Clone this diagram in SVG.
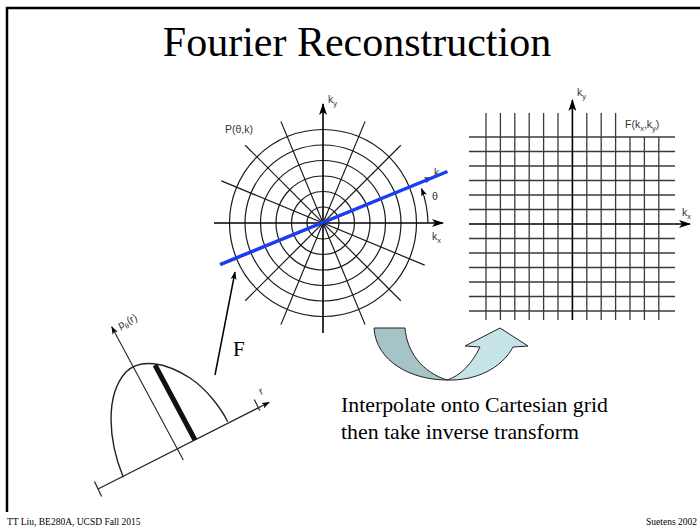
<svg xmlns="http://www.w3.org/2000/svg" width="700" height="530" viewBox="0 0 700 530">
<style>
.ln{stroke:#1a1a1a;stroke-width:1.2;fill:none}
.gr{stroke:#3a3a3a;stroke-width:1.3}
.ax{stroke:#000;stroke-width:1.6;fill:none}
.lab{font-family:"Liberation Sans",Arial,sans-serif;font-size:10.5px;fill:#333}
.serif{font-family:"Liberation Serif","Times New Roman",serif;fill:#000}
</style>
<defs>
<marker id="ah" viewBox="0 0 12 8" refX="11" refY="4" markerWidth="12" markerHeight="8" markerUnits="userSpaceOnUse" orient="auto"><path d="M0,0 L12,4 L0,8 L3,4 Z" fill="#000"/></marker>
<marker id="ahs" viewBox="0 0 8 6" refX="7.5" refY="3" markerWidth="8" markerHeight="6" markerUnits="userSpaceOnUse" orient="auto"><path d="M0,0 L8,3 L0,6 L2,3 Z" fill="#000"/></marker>
</defs>
<rect width="700" height="530" fill="#fff"/>
<path d="M7,512 V8 H700" stroke="#000" stroke-width="2.5" fill="none"/>
<text class="serif" x="357" y="56" font-size="42" text-anchor="middle">Fourier Reconstruction</text>

<g id="polar">
  <g class="ln">
    <circle cx="323" cy="223" r="16"/>
    <circle cx="323" cy="223" r="31.5"/>
    <circle cx="323" cy="223" r="47"/>
    <circle cx="323" cy="223" r="62.5"/>
    <circle cx="323" cy="223" r="78"/>
    <circle cx="323" cy="223" r="93.5"/>
    <g transform="translate(323,223)">
      <line x1="-110" y1="0" x2="110" y2="0" transform="rotate(22.5)"/>
      <line x1="-110" y1="0" x2="110" y2="0" transform="rotate(45)"/>
      <line x1="-110" y1="0" x2="110" y2="0" transform="rotate(67.5)"/>
      <line x1="-110" y1="0" x2="110" y2="0" transform="rotate(112.5)"/>
      <line x1="-110" y1="0" x2="110" y2="0" transform="rotate(135)"/>
      <line x1="-110" y1="0" x2="110" y2="0" transform="rotate(157.5)"/>
    </g>
  </g>
  <line class="ax" x1="214" y1="223" x2="443" y2="223" marker-end="url(#ah)"/>
  <line class="ax" x1="323" y1="333" x2="323" y2="104" marker-end="url(#ah)"/>
  <line class="ax" x1="323" y1="223" x2="432" y2="177.5" marker-end="url(#ahs)"/>
  <path class="ln" d="M428,223 A105,105 0 0 0 421.5,188.5" marker-end="url(#ahs)"/>
  <text class="lab" x="434" y="176">k</text>
  <line x1="220" y1="264.5" x2="447.5" y2="171.5" stroke="#1a3ff2" stroke-width="3.5"/>
  <text class="lab" x="225" y="133">P(θ,k)</text>
  <text class="lab" x="328" y="103">k<tspan font-size="7.5" dy="3">y</tspan></text>
  <text class="lab" x="432" y="240">k<tspan font-size="7.5" dy="3">x</tspan></text>
  <text class="lab" x="432" y="200">θ</text>
</g>

<g id="cartesian">
  <g class="gr">
    <line x1="486" y1="113" x2="486" y2="320"/>
    <line x1="500.4" y1="113" x2="500.4" y2="320"/>
    <line x1="514.8" y1="113" x2="514.8" y2="320"/>
    <line x1="529.2" y1="113" x2="529.2" y2="320"/>
    <line x1="543.6" y1="113" x2="543.6" y2="320"/>
    <line x1="558" y1="113" x2="558" y2="320"/>
    <line x1="586.8" y1="113" x2="586.8" y2="320"/>
    <line x1="601.2" y1="113" x2="601.2" y2="320"/>
    <line x1="615.6" y1="113" x2="615.6" y2="320"/>
    <line x1="630" y1="137" x2="630" y2="320"/>
    <line x1="644.4" y1="137" x2="644.4" y2="320"/>
    <line x1="658.8" y1="137" x2="658.8" y2="320"/>
    <line x1="469" y1="137" x2="675" y2="137"/>
    <line x1="469" y1="151.5" x2="675" y2="151.5"/>
    <line x1="469" y1="166" x2="675" y2="166"/>
    <line x1="469" y1="180.5" x2="675" y2="180.5"/>
    <line x1="469" y1="195" x2="675" y2="195"/>
    <line x1="469" y1="209.5" x2="675" y2="209.5"/>
    <line x1="469" y1="238.5" x2="675" y2="238.5"/>
    <line x1="469" y1="253" x2="675" y2="253"/>
    <line x1="469" y1="267.5" x2="675" y2="267.5"/>
    <line x1="469" y1="282" x2="675" y2="282"/>
    <line x1="469" y1="296.5" x2="675" y2="296.5"/>
    <line x1="469" y1="311" x2="675" y2="311"/>
  </g>
  <line class="ax" x1="469" y1="224" x2="690" y2="224" marker-end="url(#ah)"/>
  <line class="ax" x1="572.4" y1="320" x2="572.4" y2="100" marker-end="url(#ah)"/>
  <text class="lab" x="577" y="96">k<tspan font-size="7.5" dy="3">y</tspan></text>
  <text class="lab" x="682" y="216">k<tspan font-size="7.5" dy="3">x</tspan></text>
  <text class="lab" x="625" y="128">F(k<tspan font-size="7.5" dy="3">x</tspan><tspan dy="-3">,k</tspan><tspan font-size="7.5" dy="3">y</tspan><tspan dy="-3">)</tspan></text>
</g>

<g id="projection">
  <line x1="98" y1="489" x2="269.3" y2="402.3" stroke="#222" stroke-width="1.2" marker-end="url(#ahs)"/>
  <line x1="94.5" y1="481.6" x2="101.6" y2="496.4" stroke="#222" stroke-width="1.2"/>
  <line x1="254.3" y1="399.6" x2="259.7" y2="410.4" stroke="#222" stroke-width="1.2"/>
  <line x1="183.3" y1="460" x2="111.7" y2="326.7" stroke="#222" stroke-width="1.1" marker-end="url(#ahs)"/>
  <path d="M123.3,477.3 C108,440 105,395 126,372 C140,358 165,362 190,378 C208,390 222,410 227.7,421.7" fill="none" stroke="#222" stroke-width="1.4"/>
  <line x1="155" y1="365" x2="195" y2="440" stroke="#111" stroke-width="5"/>
  <text class="lab" font-size="10" transform="translate(120,329) rotate(-27)">p<tspan font-size="7" dy="3">θ</tspan><tspan dy="-3">(r)</tspan></text>
  <text class="lab" font-size="10" transform="translate(261,395) rotate(-27)">r</text>
</g>

<g id="connectors">
  <line x1="215" y1="375" x2="235" y2="272" stroke="#000" stroke-width="1.5" marker-end="url(#ahs)"/>
  <g id="curved-arrow" stroke="#222" stroke-width="1">
    <path d="M374,328 L405,328 C407,352 422,372 447,380 C412,380 376,362 374,328 Z" fill="#a6c4c7"/>
    <path d="M447,380 C476,381 502,368 513,347 L528,346 L500,328 L465,346 L480,347 C472,364 460,376 447,380 Z" fill="#c6e4e8"/>
  </g>
</g>
<text class="serif" x="233" y="356" font-size="21">F</text>
<text class="serif" x="341" y="412" font-size="21.8">Interpolate onto Cartesian grid</text>
<text class="serif" x="341" y="439" font-size="21.8">then take inverse transform</text>
<text class="serif" x="7" y="525" font-size="9.5">TT Liu, BE280A, UCSD Fall 2015</text>
<text class="serif" x="697" y="525" font-size="9.5" text-anchor="end">Suetens 2002</text>
</svg>
